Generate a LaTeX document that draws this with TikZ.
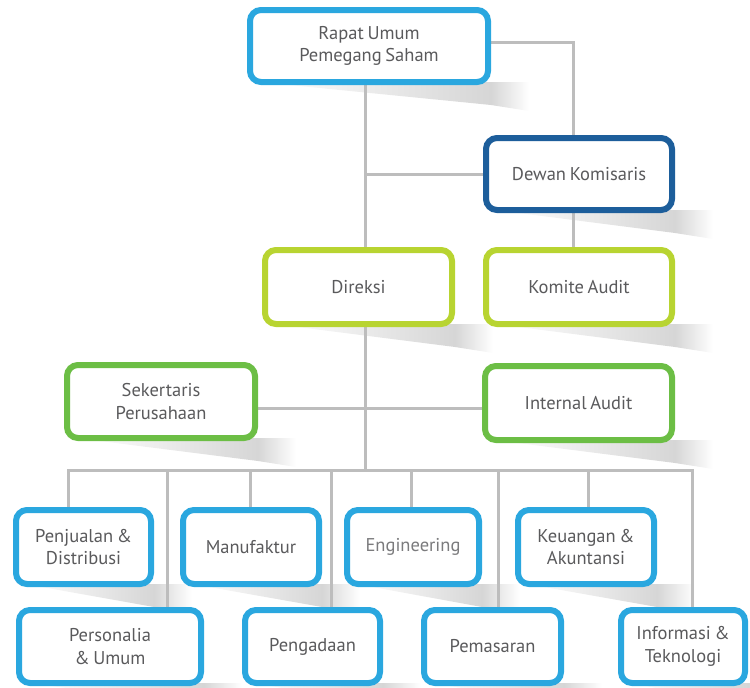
\documentclass[tikz,border=0pt]{standalone}
\usepackage{fontspec}
\setmainfont[WordSpace=0.75]{PT Sans}
\usetikzlibrary{calc}
\definecolor{lblue}{HTML}{2AA7DF}
\definecolor{dblue}{HTML}{1D5E9B}
\definecolor{lime}{HTML}{B8D431}
\definecolor{lgreen}{HTML}{6CBE45}
\definecolor{linec}{HTML}{BDBDBD}
\definecolor{txt}{HTML}{5A5A5C}
\definecolor{shadc}{HTML}{D6D6D6}
\pgfdeclarelayer{shad}
\pgfdeclarelayer{lines}
\pgfsetlayers{shad,lines,main}
\tikzset{
  orgbox/.style={draw=#1, line width=6pt, rounded corners=11pt, fill=white,
    align=center, text=txt, font=\fontsize{18.5}{22.5}\selectfont, inner sep=0pt},
  conn/.style={draw=linec, line width=3pt},
}
\newcommand{\shadowfor}[1]{%
  \shade[left color=white, right color=shadc]
    ($(#1.south west)+(12,-3)$) -- ($(#1.south east)+(0,-3)$) -- ($(#1.south east)+(0,20)$) -- cycle;
  \shade[left color=shadc, right color=white]
    ($(#1.south east)+(0,-3)$) -- ($(#1.south east)+(38,-3)$) -- ($(#1.south east)+(38,26)$) -- ($(#1.south east)+(0,20)$) -- cycle;
}
\begin{document}
\begin{tikzpicture}[x=1pt,y=-1pt]
\useasboundingbox (0,0) rectangle (750,688);
% boxes
\node[orgbox=lblue, minimum width=238, minimum height=72] (rups) at (369,46) {Rapat Umum\\Pemegang Saham};
\node[orgbox=dblue, minimum width=186, minimum height=72] (dewan) at (579,174) {Dewan Komisaris};
\node[orgbox=lime, minimum width=187, minimum height=74] (direksi) at (358.5,287) {Direksi};
\node[orgbox=lime, minimum width=186, minimum height=74] (komite) at (579,287) {Komite Audit};
\node[orgbox=lgreen, minimum width=188, minimum height=73] (sekertaris) at (161,401.5) {Sekertaris\\Perusahaan};
\node[orgbox=lgreen, minimum width=187, minimum height=74] (internal) at (578.5,403) {Internal Audit};
\node[orgbox=lblue, minimum width=135, minimum height=74] (penjualan) at (83.5,547) {Penjualan \&\\Distribusi};
\node[orgbox=lblue, minimum width=136, minimum height=74] (manufaktur) at (251,547) {Manufaktur};
\node[orgbox=lblue, minimum width=132, minimum height=74, text=txt!80] (engineering) at (413,547) {Engineering};
\node[orgbox=lblue, minimum width=136, minimum height=74] (keuangan) at (586,547) {Keuangan \&\\Akuntansi};
\node[orgbox=lblue, minimum width=182, minimum height=73] (personalia) at (110,646.5) {Personalia\\\& Umum};
\node[orgbox=lblue, minimum width=135, minimum height=73] (pengadaan) at (312.5,646.5) {Pengadaan};
\node[orgbox=lblue, minimum width=137, minimum height=73] (pemasaran) at (492.5,646.5) {Pemasaran};
\node[orgbox=lblue, minimum width=124, minimum height=73] (informasi) at (683,646.5) {Informasi \&\\Teknologi};
% shadows
\begin{pgfonlayer}{shad}
\foreach \n in {rups,dewan,direksi,komite,sekertaris,internal,penjualan,manufaktur,engineering,keuangan,personalia,pengadaan,pemasaran,informasi}{\shadowfor{\n}}
\end{pgfonlayer}
% connectors
\coordinate (sp) at (365,0);
\coordinate (rx) at (573,0);
\coordinate (bus) at (0,470);
\coordinate (mid) at (0,408);
\coordinate (d1) at (68,0);
\coordinate (d2) at (167,0);
\coordinate (d3) at (250,0);
\coordinate (d4) at (331,0);
\coordinate (d5) at (411,0);
\coordinate (d6) at (498,0);
\coordinate (d7) at (588,0);
\coordinate (d8) at (692,0);
\begin{pgfonlayer}{lines}
\draw[conn] ([yshift=4]rups.east) -| (rx |- dewan.north);
\draw[conn] (sp |- rups.south) -- (sp |- direksi.north);
\draw[conn] (sp |- dewan.west) -- (dewan.west);
\draw[conn] (rx |- dewan.south) -- (rx |- komite.north);
\draw[conn] (sp |- direksi.south) -- (sp |- bus);
\draw[conn] (sekertaris.east |- mid) -- (internal.west |- mid);
\draw[conn] (d1 |- penjualan.north) -- (d1 |- bus) -- (d8 |- bus) -- (d8 |- informasi.north);
\draw[conn] (d2 |- bus) -- (d2 |- personalia.north);
\draw[conn] (d3 |- bus) -- (d3 |- manufaktur.north);
\draw[conn] (d4 |- bus) -- (d4 |- pengadaan.north);
\draw[conn] (d5 |- bus) -- (d5 |- engineering.north);
\draw[conn] (d6 |- bus) -- (d6 |- pemasaran.north);
\draw[conn] (d7 |- bus) -- (d7 |- keuangan.north);
\end{pgfonlayer}
\end{tikzpicture}
\end{document}
